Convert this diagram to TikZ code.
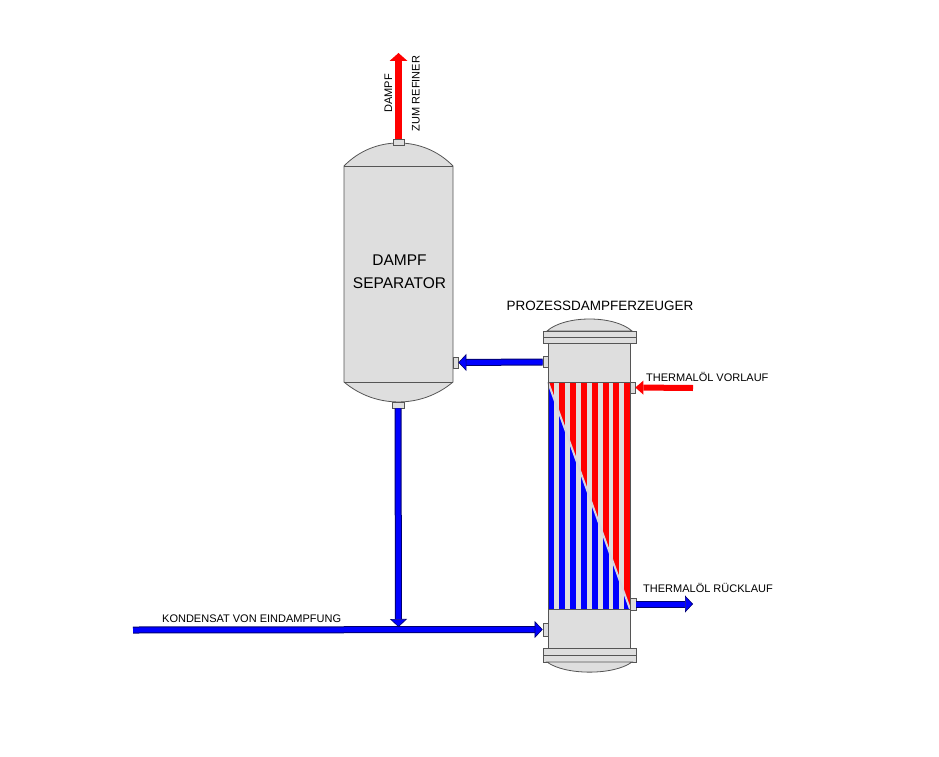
\documentclass[tikz,border=0pt]{standalone}
\usepackage{fontspec}
\setmainfont{Liberation Sans}
\usepackage{tikz}
\usetikzlibrary{arrows.meta}
\definecolor{shellfill}{RGB}{222,222,222}
\definecolor{shellline}{RGB}{85,85,85}
\definecolor{pipeblue}{RGB}{0,0,255}
\definecolor{pipered}{RGB}{255,0,0}
\definecolor{pipeedge}{RGB}{0,0,110}
\definecolor{splitline}{RGB}{215,215,225}

\tikzset{
    shell/.style={fill=shellfill, draw=shellline, line width=0.8pt},
    nozzle/.style={rectangle, fill=shellfill, draw=shellline, line width=0.7pt, inner sep=0pt},
    steamline/.style={draw=pipered, line width=7pt, -{Triangle[width=18pt,length=8pt,line width=0pt]}},
    oilline/.style={draw=pipered, line width=6pt, -{Triangle[width=14pt,length=8pt,line width=0pt]}},
    waterline/.style={draw=pipeedge, line width=7pt, -{Triangle[width=17pt,length=8pt,line width=0.6pt,fill=pipeblue]}},
    watercore/.style={draw=pipeblue, line width=5pt, shorten >=8pt},
    smalltext/.style={font=\fontsize{11}{13}\selectfont, inner sep=0pt},
    bigtext/.style={font=\fontsize{15.5}{18}\selectfont, inner sep=0pt}
}

\begin{document}
\begin{tikzpicture}[x=1pt, y=-1pt]
    \useasboundingbox (0,0) rectangle (939,757);

    % Separator vessel
    \coordinate (sepTL) at (344,166);
    \coordinate (sepTR) at (453,166);
    \coordinate (sepBL) at (344,382);
    \coordinate (sepBR) at (453,382);
    \path[shell] (sepTL) .. controls (373.8,135.3) and (423.2,135.3) .. (sepTR)
        -- (sepBR) .. controls (421.6,408.6) and (375.4,408.6) .. (sepBL) -- cycle;
    \draw[shellline, line width=0.8pt] (sepTL) -- (sepTR);
    \draw[shellline, line width=0.8pt] (sepBL) -- (sepBR);

    % Nozzles of the separator
    \node[nozzle, minimum width=11pt, minimum height=6pt] (sepTop) at (398.5,142) {};
    \node[nozzle, minimum width=12pt, minimum height=6pt] (sepBot) at (398,405) {};
    \node[nozzle, minimum width=5pt, minimum height=11pt] (sepSide) at (455.5,362.5) {};

    % Process steam generator: heads and shell
    \path[shell] (547,331) .. controls (565,315) and (614,315) .. (632,331) -- cycle;
    \path[shell] (543,331) rectangle (636,343);
    \draw[shellline, line width=0.6pt] (543,337) -- (636,337);
    \path[shell] (548,343) rectangle (630,648);

    % Tube bundle, red above and blue below the diagonal
    \begin{scope}
        \clip (548,382) -- (630,382) -- (630,609) -- cycle;
        \foreach \i in {0,...,7}
            \fill[pipered] ({548+10.9*\i},382) rectangle ++(6,227);
    \end{scope}
    \begin{scope}
        \clip (548,382) -- (630,609) -- (548,609) -- cycle;
        \foreach \i in {0,...,7}
            \fill[pipeblue] ({548+10.9*\i},382) rectangle ++(6,227);
    \end{scope}
    \draw[splitline, line width=2pt] (548,382) -- (630,609);
    \draw[shellline, line width=0.6pt] (548,382) -- (630,382);
    \draw[shellline, line width=0.6pt] (548,609) -- (630,609);
    \draw[shellline, line width=0.8pt] (548,343) rectangle (630,648);

    \path[shell] (543,648) rectangle (636,662);
    \draw[shellline, line width=0.6pt] (543,655) -- (636,655);
    \path[shell] (547,662) .. controls (565,675.5) and (614,675.5) .. (632,662) -- cycle;

    % Nozzles of the steam generator
    \node[nozzle, minimum width=5pt, minimum height=11pt] (hxSteam) at (545.5,362) {};
    \node[nozzle, minimum width=5pt, minimum height=11pt] (hxOilIn) at (632.5,387.5) {};
    \node[nozzle, minimum width=6pt, minimum height=12pt] (hxOilOut) at (633,604) {};
    \node[nozzle, minimum width=5pt, minimum height=13pt] (hxFeed) at (545.5,629.5) {};

    % Free pipe ends
    \coordinate (steamEnd) at (398.5,53);
    \coordinate (oilSource) at (693,388);
    \coordinate (oilEnd) at (693,604);
    \coordinate (feedSource) at (133,630);
    \coordinate (tee) at (398.5,627);

    % Pipes
    \draw[steamline] (sepTop.north) -- (steamEnd);
    \draw[oilline] (oilSource) -- (hxOilIn.east);
    \draw[waterline] (hxSteam.west) -- (sepSide.east);
    \draw[watercore] (hxSteam.west) -- (sepSide.east);
    \draw[waterline] (hxOilOut.east) -- (oilEnd);
    \draw[watercore] (hxOilOut.east) -- (oilEnd);
    \draw[waterline] (feedSource) -- (hxFeed.west);
    \draw[watercore] (feedSource) -- (hxFeed.west);
    \draw[waterline] (sepBot.south) -- (tee);
    \draw[watercore] (sepBot.south) -- (tee);

    % Labels
    \node[smalltext, rotate=90, anchor=base] (steamText) at (392,93.5) {DAMPF};
    \node[smalltext, rotate=90, anchor=base] (refinerText) at (419.5,93.5) {ZUM REFINER};
    \node[bigtext, anchor=base] (sepText) at (399.5,265.5) {DAMPF};
    \node[bigtext, anchor=base] (sepText2) at (399.5,288) {SEPARATOR};
    \node[font=\fontsize{13.5}{16}\selectfont, inner sep=0pt, anchor=base] (hxText) at (600,310) {PROZESSDAMPFERZEUGER};
    \node[smalltext, anchor=base west] (oilInText) at (646,381) {THERMALÖL VORLAUF};
    \node[smalltext, anchor=base west] (oilOutText) at (643,592) {THERMALÖL RÜCKLAUF};
    \node[smalltext, anchor=base west] (feedText) at (162,622.5) {KONDENSAT VON EINDAMPFUNG};
\end{tikzpicture}
\end{document}
